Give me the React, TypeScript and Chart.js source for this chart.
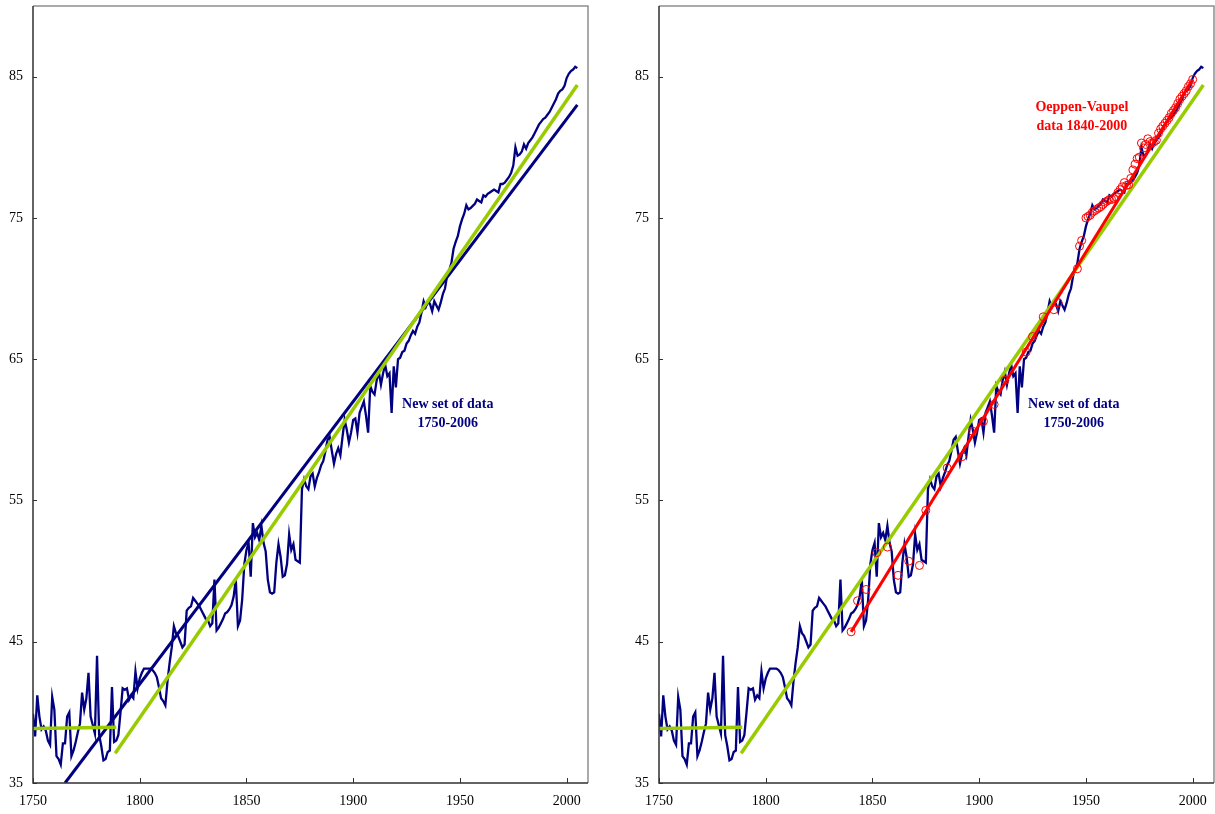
import React, { useEffect, useRef } from "react";
import { Chart, registerables } from "chart.js";

Chart.register(...registerables);

// Yearly series, 1750-2005
const firstYear = 1750;
const lifeExpectancy = [
  39.9, 38.3, 41.2, 39.7, 38.8, 39.0, 38.7, 38.0, 37.7, 41.1,
  40.2, 36.9, 36.7, 36.3, 37.8, 37.8, 39.7, 40.0, 36.9, 37.3,
  37.9, 38.6, 39.2, 41.4, 40.2, 41.0, 42.8, 39.7, 39.1, 38.5,
  44.0, 38.4, 37.6, 36.6, 36.7, 37.2, 37.3, 41.8, 37.9, 38.0,
  38.4, 40.0, 41.7, 41.6, 41.7, 40.9, 41.2, 41.0, 42.9, 41.7,
  42.4, 42.8, 43.1, 43.1, 43.1, 43.1, 43.0, 42.8, 42.5, 41.8,
  41.0, 40.8, 40.5, 42.2, 43.5, 44.6, 46.1, 45.6, 45.4, 45.0,
  44.6, 44.8, 47.2, 47.4, 47.5, 48.1, 47.9, 47.7, 47.5, 47.2,
  46.9, 46.6, 46.5, 46.1, 46.3, 49.4, 45.8, 46.0, 46.3, 46.6,
  47.0, 47.1, 47.3, 47.6, 48.2, 49.4, 46.1, 46.5, 48.0, 50.5,
  51.5, 52.0, 49.6, 53.4, 52.4, 52.7, 52.2, 53.2, 52.0, 51.4,
  49.4, 48.5, 48.4, 48.5, 50.6, 51.9, 51.0, 49.6, 49.7, 50.5,
  52.6, 51.5, 51.9, 50.8, 50.7, 50.6, 55.8, 56.5, 56.0, 55.8,
  56.7, 56.9, 56.0, 56.6, 57.0, 57.5, 57.8, 58.5, 59.3, 59.5,
  58.5, 57.6, 58.3, 58.7, 58.2, 59.5, 60.7, 60.0, 59.1, 59.8,
  60.7, 60.8, 59.8, 61.2, 61.6, 62.0, 61.0, 59.8, 63.1, 62.7,
  62.5, 63.5, 64.1, 63.2, 64.0, 64.6, 63.8, 64.0, 61.2, 64.5,
  63.0, 65.0, 65.1, 65.5, 65.6, 66.1, 66.3, 66.7, 67.0, 66.8,
  67.3, 67.6, 68.3, 69.1, 68.7, 69.1, 68.9, 68.4, 69.1, 68.8,
  68.5, 69.0, 69.6, 70.0, 70.9, 71.3, 71.8, 72.8, 73.3, 73.7,
  74.4, 74.9, 75.3, 75.9, 75.6, 75.7, 75.85, 76.0, 76.3, 76.2,
  76.1, 76.6, 76.5, 76.7, 76.8, 76.9, 77.0, 76.9, 76.8, 77.4,
  77.4, 77.5, 77.7, 77.9, 78.2, 78.7, 80.0, 79.4, 79.5, 79.7,
  80.2, 79.9, 80.3, 80.5, 80.7, 81.0, 81.3, 81.6, 81.8, 82.0,
  82.1, 82.3, 82.5, 82.8, 83.1, 83.4, 83.8, 84.0, 84.1, 84.35,
  84.9, 85.2, 85.4, 85.5, 85.7, 85.6,
];
const lifeYears = lifeExpectancy.map((_, i) => firstYear + i);

// Linear trend over the whole new series
const trendAllYears = [1765, 2005];
const trendAllValues = [35, 83];

// Flat level before the rise, and the trend after it
const flatYears = [1750, 1789];
const flatValues = [38.85, 38.95];
const riseYears = [1788.5, 2005];
const riseValues = [37.1, 84.4];

// Oeppen-Vaupel record series and its trend
const ovYears = [
  1840, 1843, 1847, 1852, 1857, 1862, 1867, 1872, 1875, 1885,
  1892, 1897, 1902, 1907, 1912, 1922, 1925, 1930, 1935, 1937,
  1946, 1947, 1948, 1950, 1951, 1952, 1953, 1954, 1955, 1956,
  1957, 1958, 1959, 1960, 1961, 1962, 1963, 1964, 1965, 1966,
  1967, 1968, 1969, 1970, 1971, 1972, 1973, 1974, 1975, 1976,
  1977, 1978, 1979, 1980, 1981, 1982, 1983, 1984, 1985, 1986,
  1987, 1988, 1989, 1990, 1991, 1992, 1993, 1994, 1995, 1996,
  1997, 1998, 1999, 2000,
];
const ovValues = [
  45.7, 47.9, 48.7, 51.3, 51.7, 49.7, 50.7, 50.4, 54.3, 57.3,
  58.1, 59.9, 60.6, 61.8, 63.5, 65.5, 66.6, 68.0, 68.5, 69.0,
  71.4, 73.0, 73.4, 75.0, 75.1, 75.2, 75.4, 75.5, 75.6, 75.7,
  75.8, 75.95, 76.1, 76.2, 76.3, 76.3, 76.4, 76.5, 76.8, 77.0,
  77.2, 77.5, 77.3, 77.35, 77.8, 78.4, 78.8, 79.2, 79.3, 80.3,
  79.95, 80.2, 80.6, 80.4, 80.3, 80.4, 80.5, 81.0, 81.3, 81.5,
  81.7, 81.9, 82.1, 82.4, 82.6, 82.8, 83.1, 83.4, 83.6, 83.8,
  84.0, 84.3, 84.5, 84.8,
];
const ovTrendYears = [1840, 2000];
const ovTrendValues = [45.7, 84.8];

// Axes
const xMin = 1750;
const xMax = 2010;
const yMin = 35;
const yMax = 90;
const xTickValues = [1750, 1800, 1850, 1900, 1950, 2000];
const yTickValues = [35, 45, 55, 65, 75, 85];

const NAVY = "#000080";
const GREEN = "#99CC00";
const RED = "#FF0000";
const SERIF = "'Liberation Serif', 'Times New Roman', serif";

const pts = (xs: number[], ys: number[]) => xs.map((x, i) => ({ x, y: ys[i] }));

type Note = { lines: string[]; x: number; y: number; color: string };

const lineSet = (data: { x: number; y: number }[], color: string, width: number) => ({
  data,
  showLine: true,
  borderColor: color,
  backgroundColor: color,
  borderWidth: width,
  pointRadius: 0,
  pointHoverRadius: 0,
  pointBorderWidth: 0,
  tension: 0,
  fill: false,
});

const framePlugin = {
  id: "frame",
  afterDraw(chart: any) {
    const { ctx, chartArea: a, scales } = chart;
    const xs = scales.x;
    const ys = scales.y;
    ctx.save();
    ctx.lineCap = "butt";
    ctx.strokeStyle = "#8e8e8e";
    ctx.lineWidth = 1.5;
    ctx.beginPath();
    ctx.moveTo(a.left, a.top);
    ctx.lineTo(a.right, a.top);
    ctx.lineTo(a.right, a.bottom);
    ctx.stroke();
    ctx.strokeStyle = "#303030";
    ctx.lineWidth = 1.5;
    ctx.beginPath();
    ctx.moveTo(a.left, a.top);
    ctx.lineTo(a.left, a.bottom);
    ctx.lineTo(a.right, a.bottom);
    ctx.stroke();
    ctx.lineWidth = 1;
    ys.ticks.forEach((t: any) => {
      const py = Math.round(ys.getPixelForValue(t.value)) + 0.5;
      ctx.beginPath();
      ctx.moveTo(a.left, py);
      ctx.lineTo(a.left + 4, py);
      ctx.stroke();
    });
    xs.ticks.forEach((t: any) => {
      const px = Math.round(xs.getPixelForValue(t.value)) + 0.5;
      ctx.beginPath();
      ctx.moveTo(px, a.bottom);
      ctx.lineTo(px, a.bottom - 5);
      ctx.stroke();
    });
    ctx.restore();
  },
};

const notesPlugin = {
  id: "notes",
  afterDatasetsDraw(chart: any, _args: any, opts: any) {
    const notes: Note[] = opts.items || [];
    const { ctx, scales } = chart;
    ctx.save();
    ctx.font = `bold 14px ${SERIF}`;
    ctx.textAlign = "center";
    ctx.textBaseline = "middle";
    notes.forEach((n) => {
      const px = scales.x.getPixelForValue(n.x);
      const py = scales.y.getPixelForValue(n.y);
      ctx.fillStyle = n.color;
      n.lines.forEach((line, i) => ctx.fillText(line, px, py + i * 19));
    });
    ctx.restore();
  },
};

const noPadding = (s: any) => {
  s.paddingTop = 0;
  s.paddingBottom = 0;
  s.paddingLeft = 0;
  s.paddingRight = 0;
};

function Panel({ datasets, notes, left, width, padRight }: any) {
  const ref = useRef<HTMLCanvasElement | null>(null);
  useEffect(() => {
    if (!ref.current) return;
    const chart = new Chart(ref.current, {
      type: "scatter",
      data: { datasets },
      options: {
        animation: false,
        responsive: false,
        maintainAspectRatio: false,
        events: [],
        layout: { padding: { left: 0, right: padRight, top: 6, bottom: 0 } },
        plugins: {
          legend: { display: false },
          tooltip: { enabled: false },
          notes: { items: notes },
        } as any,
        scales: {
          x: {
            type: "linear",
            min: xMin,
            max: xMax,
            grid: { display: false, drawTicks: false },
            border: { display: false },
            afterBuildTicks: (s: any) => {
              s.ticks = xTickValues.map((value) => ({ value }));
            },
            afterFit: (s: any) => {
              s.height = 31;
              noPadding(s);
            },
            ticks: {
              color: "#000",
              padding: 10,
              maxRotation: 0,
              font: { family: SERIF, size: 14 },
              callback: (v: any) => String(v),
            },
          },
          y: {
            type: "linear",
            min: yMin,
            max: yMax,
            grid: { display: false, drawTicks: false },
            border: { display: false },
            afterBuildTicks: (s: any) => {
              s.ticks = yTickValues.map((value) => ({ value }));
            },
            afterFit: (s: any) => {
              s.width = 33;
              noPadding(s);
            },
            ticks: {
              color: "#000",
              padding: 10,
              font: { family: SERIF, size: 14 },
              callback: (v: any) => String(v),
            },
          },
        },
      },
      plugins: [framePlugin, notesPlugin],
    });
    return () => chart.destroy();
  }, []);
  return (
    <canvas
      ref={ref}
      width={width}
      height={814}
      style={{ position: "absolute", left, top: 0, display: "block" }}
    />
  );
}

export default function App() {
  const series = pts(lifeYears, lifeExpectancy);
  // The first dataset in each list is painted last, i.e. on top.
  const leftSets = [
    lineSet(pts(riseYears, riseValues), GREEN, 3.5),
    lineSet(pts(flatYears, flatValues), GREEN, 3.5),
    lineSet(pts(trendAllYears, trendAllValues), NAVY, 3),
    lineSet(series, NAVY, 2.3),
  ];
  const rightSets = [
    {
      data: pts(ovYears, ovValues),
      showLine: false,
      pointRadius: 4,
      pointHoverRadius: 4,
      pointBorderWidth: 1,
      pointBorderColor: RED,
      pointBackgroundColor: "rgba(0,0,0,0)",
      borderColor: RED,
      backgroundColor: "rgba(0,0,0,0)",
    },
    lineSet(pts(ovTrendYears, ovTrendValues), RED, 3),
    lineSet(pts(riseYears, riseValues), GREEN, 3.5),
    lineSet(pts(flatYears, flatValues), GREEN, 3.5),
    lineSet(series, NAVY, 2.3),
  ];
  const newDataNote: Note = { lines: ["New set of data", "1750-2006"], x: 1944.3, y: 61.8, color: NAVY };
  const ovNote: Note = { lines: ["Oeppen-Vaupel", "data 1840-2000"], x: 1948.1, y: 82.8, color: RED };
  return (
    <div
      style={{
        position: "fixed",
        left: 0,
        top: 0,
        width: 1215,
        height: 814,
        overflow: "hidden",
        background: "#fff",
      }}
    >
      <Panel datasets={leftSets} notes={[newDataNote]} left={0} width={595} padRight={7} />
      <Panel datasets={rightSets} notes={[newDataNote, ovNote]} left={626} width={594} padRight={6} />
    </div>
  );
}
